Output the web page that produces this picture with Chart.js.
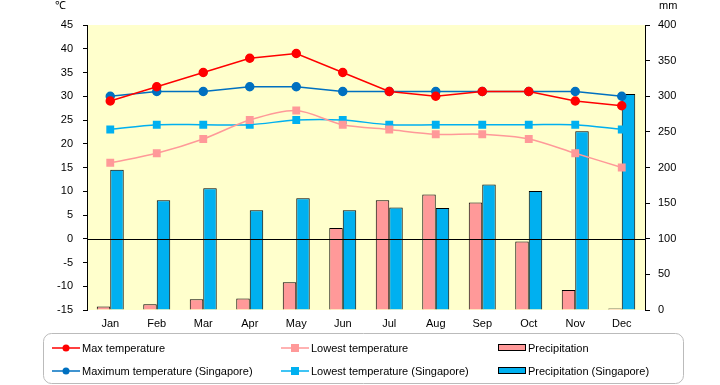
<!DOCTYPE html>
<html><head><meta charset="utf-8">
<script src="https://cdn.jsdelivr.net/npm/chart.js@4/dist/chart.umd.min.js"></script>
<style>html,body{margin:0;padding:0;background:#fff}#wrap{width:720px;height:385px;position:relative}</style>
</head><body><div id="wrap"><canvas id="c" width="720" height="385"></canvas></div>
<script>
const months = ["Jan","Feb","Mar","Apr","May","Jun","Jul","Aug","Sep","Oct","Nov","Dec"];
const maxTemp = [29,32,35,38,39,35,31,30,31,31,29,28];
const lowTemp = [16,18,21,25,27,24,23,22,22,21,18,15];
const precip = [5,8,15,16,39,115,154,162,151,96,28,2];
const maxTempSg = [30,31,31,32,32,31,31,31,31,31,31,30];
const lowTempSg = [23,24,24,24,25,25,24,24,24,24,24,23];
const precipSg = [197,154,171,140,157,140,144,143,176,167,251,303];
const tempTicks = {min:-15,max:45,step:5};
const mmTicks = {min:0,max:400,step:50};
const FONT = "'Liberation Sans', Arial, sans-serif";

const bg = {
  id:'bg',
  beforeDraw(ch){const a=ch.chartArea,c=ch.ctx;c.save();c.fillStyle='#FFFFCC';c.fillRect(a.left,a.top,a.right-a.left,a.bottom-a.top);c.restore();}
};
const extras = {
  id:'extras',
  afterDatasetsDraw(ch){
    const c=ch.ctx,a=ch.chartArea,y0=ch.scales.y.getPixelForValue(0);
    c.save();c.strokeStyle='#000';c.lineWidth=1;c.beginPath();c.moveTo(a.left,Math.round(y0)+0.5);c.lineTo(a.right,Math.round(y0)+0.5);c.stroke();c.restore();
  },
  afterDraw(ch){
    const c=ch.ctx;c.save();
    c.fillStyle='#000';c.font='11px '+FONT;c.textBaseline='middle';
    c.textAlign='left';c.fillText('℃',55,6);c.fillText('mm',659,6);
    const bx=43.5,by=333.5,bw=640,bh=50,r=8;
    c.strokeStyle='#BBBBBB';c.lineWidth=1;c.beginPath();
    c.moveTo(bx+r,by);c.lineTo(bx+bw-r,by);c.arcTo(bx+bw,by,bx+bw,by+r,r);c.lineTo(bx+bw,by+bh-r);c.arcTo(bx+bw,by+bh,bx+bw-r,by+bh,r);
    c.lineTo(bx+r,by+bh);c.arcTo(bx,by+bh,bx,by+bh-r,r);c.lineTo(bx,by+r);c.arcTo(bx,by,bx+r,by,r);c.closePath();c.stroke();
    const cols=[52,281,498],rows=[348,371];
    const pos=[[0,0],[1,0],[2,0],[0,1],[1,1],[2,1]];
    const ds=ch.data.datasets;
    const idx=[0,2,4,1,3,5];
    idx.forEach((di,k)=>{
      const d=ds[di];const x=cols[pos[k][0]],y=rows[pos[k][1]];
      if(d.type==='line'){
        c.strokeStyle=d.borderColor;c.lineWidth=1.5;c.beginPath();c.moveTo(x,y);c.lineTo(x+28,y);c.stroke();
        c.fillStyle=d.pointBackgroundColor;
        if(d.pointStyle==='circle'){c.beginPath();c.arc(x+14,y,3.5,0,Math.PI*2);c.fill();}
        else{c.fillRect(x+10,y-4,8,8);}
      }else{
        c.fillStyle=d.backgroundColor;c.fillRect(x,y-4,28,7);c.strokeStyle='#000';c.lineWidth=1;c.strokeRect(x+0.5,y-3.5,27,6);
      }
      c.fillStyle='#000';c.font='11px '+FONT;c.textAlign='left';c.fillText(d.label,x+30,y+1);
    });
    c.restore();
  }
};

const pt = (color,style,size,tension,width)=>({type:'line',yAxisID:'y',borderColor:color,backgroundColor:color,pointBackgroundColor:color,pointBorderColor:color,pointStyle:style,pointRadius:size,borderWidth:width,tension:tension,order:0});

new Chart(document.getElementById('c'),{
  data:{labels:months,datasets:[
    Object.assign({label:'Max temperature',data:maxTemp},pt('#FF0000','circle',4,0,1.5)),
    Object.assign({label:'Maximum temperature (Singapore)',data:maxTempSg},pt('#0070C0','circle',4,0,1.5)),
    Object.assign({label:'Lowest temperature',data:lowTemp},pt('#FF9999','rect',4.5,0.3,1.5)),
    Object.assign({label:'Lowest temperature (Singapore)',data:lowTempSg},pt('#00B0F0','rect',4.5,0.3,1.5)),
    {type:'bar',label:'Precipitation',data:precip,yAxisID:'y1',backgroundColor:'#FF9999',borderColor:'#000',borderWidth:1,categoryPercentage:0.58,barPercentage:1,order:1},
    {type:'bar',label:'Precipitation (Singapore)',data:precipSg,yAxisID:'y1',backgroundColor:'#00B0F0',borderColor:'#000',borderWidth:1,categoryPercentage:0.58,barPercentage:1,order:1}
  ]},
  options:{
    responsive:false,animation:false,
    layout:{padding:{left:0,right:0,top:25,bottom:0}},
    plugins:{legend:{display:false},tooltip:{enabled:false}},
    scales:{
      x:{offset:true,grid:{display:false,drawTicks:false},border:{display:false},
         ticks:{color:'#000',font:{family:FONT,size:11},padding:7,maxRotation:0},
         afterFit(s){s.height=75;}},
      y:{position:'left',min:tempTicks.min,max:tempTicks.max,
         ticks:{stepSize:tempTicks.step,color:'#000',font:{family:FONT,size:11},padding:10},
         grid:{drawOnChartArea:false,tickLength:4,color:'#000',tickColor:'#000'},
         border:{display:true,color:'#000',width:1},
         afterFit(s){s.width=87;}},
      y1:{position:'right',min:mmTicks.min,max:mmTicks.max,
         ticks:{stepSize:mmTicks.step,color:'#000',font:{family:FONT,size:11},padding:8},
         grid:{drawOnChartArea:false,tickLength:5,color:'#000',tickColor:'#000'},
         border:{display:true,color:'#000',width:1},
         afterFit(s){s.width=75;}}
    }
  },
  plugins:[bg,extras]
});
</script></body></html>
